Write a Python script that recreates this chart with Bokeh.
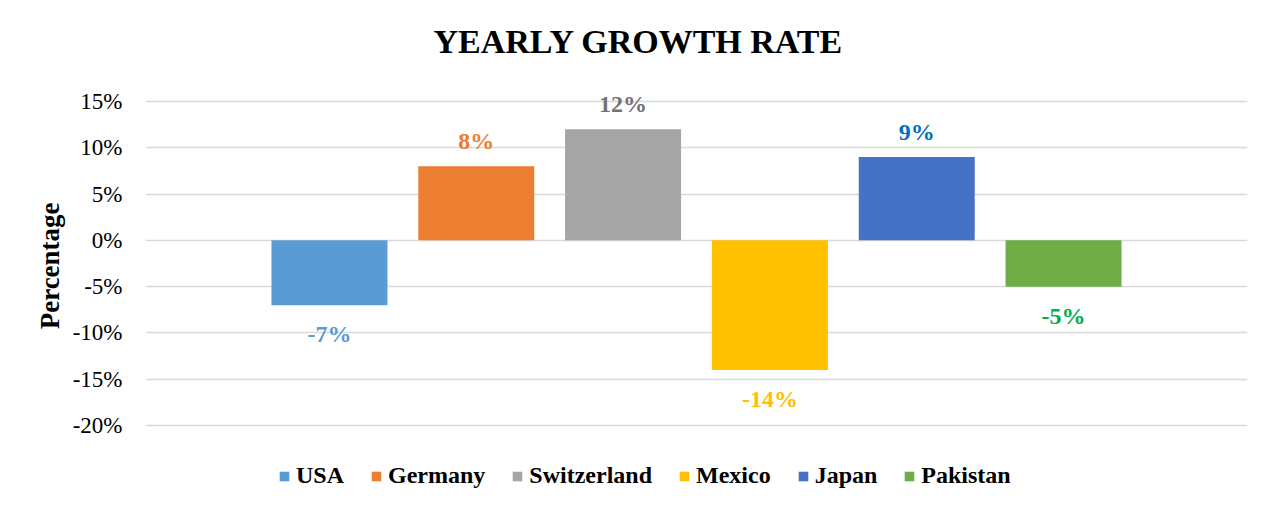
from bokeh.plotting import figure
from bokeh.models import (ColumnDataSource, FactorRange, Range1d, Legend, LegendItem,
                          NumeralTickFormatter, FixedTicker, Label)
from bokeh.core.properties import value
from bokeh.embed import file_html
from bokeh.resources import INLINE

countries = ["USA", "Germany", "Switzerland", "Mexico", "Japan", "Pakistan"]
growth = [-0.07, 0.08, 0.12, -0.14, 0.09, -0.05]
bar_colors = ["#5B9BD5", "#ED7D31", "#A5A5A5", "#FFC000", "#4472C4", "#70AD47"]
label_colors = ["#5B9BD5", "#ED7D31", "#767171", "#FFC000", "#0070C0", "#00B050"]
labels = ["-7%", "8%", "12%", "-14%", "9%", "-5%"]
y_ticks = [-0.20, -0.15, -0.10, -0.05, 0.0, 0.05, 0.10, 0.15]

SERIF = "Liberation Serif"

# pixel layout: 15% gridline at y=101, -20% gridline at y=425, canvas 497 tall
PX_PER_UNIT = 324 / 0.35
Y_TOP = 0.15 + 101 / PX_PER_UNIT
Y_BOTTOM = -0.20 - 72 / PX_PER_UNIT

src = ColumnDataSource(dict(
    country=countries, growth=growth, color=bar_colors,
    label=labels, label_color=label_colors,
    yoff=[-25 if g >= 0 else 29 for g in growth],
))

p = figure(title=None, frame_width=1102, frame_height=497, output_backend="svg", toolbar_location=None,
           x_range=FactorRange(factors=countries, range_padding=0.251),
           y_range=Range1d(Y_BOTTOM, Y_TOP),
           min_border_left=145, min_border_right=12, min_border_top=0, min_border_bottom=0)
p.outline_line_color = None
p.background_fill_color = "white"
p.border_fill_color = "white"

r = p.vbar(x="country", top="growth", bottom=0, width=0.79, color="color", line_color=None, source=src)

p.text(x="country", y="growth", text="label", text_color="label_color", y_offset="yoff",
       text_align="center", text_baseline="alphabetic",
       text_font=value(SERIF), text_font_style="bold", text_font_size="24px", source=src)

# axes
p.xaxis.visible = False
p.xgrid.visible = False
p.ygrid.grid_line_color = "#D9D9D9"
p.ygrid.grid_line_width = 1.5
p.yaxis.ticker = FixedTicker(ticks=y_ticks)
p.yaxis.bounds = (min(y_ticks), max(y_ticks))
p.yaxis.formatter = NumeralTickFormatter(format="0%")
p.yaxis.axis_line_color = None
p.yaxis.major_tick_line_color = None
p.yaxis.minor_tick_line_color = None
p.yaxis.major_label_text_font = SERIF
p.yaxis.major_label_text_font_size = "23px"
p.yaxis.major_label_text_color = "#000000"
p.yaxis.major_label_standoff = 17
# trailing no-break spaces shift the visible word down to the centre of the gridded area
p.yaxis.axis_label = "Percentage" + "\u00a0" * 5
p.yaxis.axis_label_text_font = SERIF
p.yaxis.axis_label_text_font_style = "bold"
p.yaxis.axis_label_text_font_size = "27px"
p.yaxis.axis_label_text_color = "#000000"
p.yaxis.axis_label_standoff = 5

# title (inside the tall frame, above the plotting area)
title = Label(x=493, y=456, x_units="screen", y_units="screen", text="YEARLY GROWTH RATE",
              text_align="center", text_baseline="middle",
              text_font=SERIF, text_font_style="bold", text_font_size="34px", text_color="#000000")
p.add_layout(title)

# legend
items = [LegendItem(label=c, renderers=[r], index=i) for i, c in enumerate(countries)]
legend = Legend(items=items, orientation="horizontal", location=(133, 8),
                glyph_width=12, glyph_height=12, label_standoff=6, spacing=26,
                padding=0, margin=0, border_line_color=None, background_fill_alpha=0,
                label_text_font=SERIF, label_text_font_style="bold", label_text_font_size="24px",
                label_text_color="#000000")
p.add_layout(legend, "center")

open("out.html", "w").write(file_html(p, INLINE))
